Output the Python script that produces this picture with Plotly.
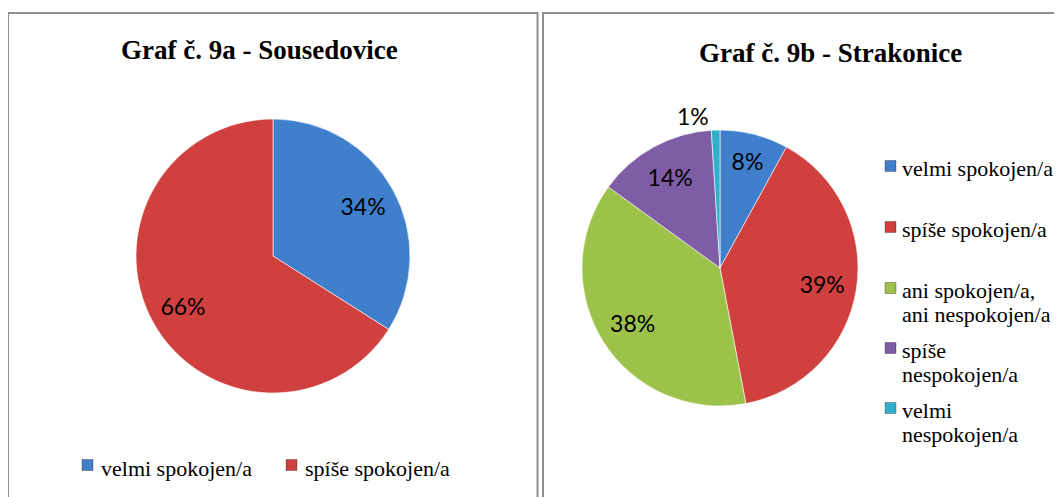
import plotly.graph_objects as go

W, H = 1062, 497
OFF = 8  # the page body adds an 8px margin around the figure

# ---- data ----
title_a = "Graf č. 9a - Sousedovice"
title_b = "Graf č. 9b - Strakonice"

cats_a = ["velmi spokojen/a", "spíše spokojen/a"]
vals_a = [34, 66]

cats_b = ["velmi spokojen/a", "spíše spokojen/a", "ani spokojen/a, ani nespokojen/a",
          "spíše nespokojen/a", "velmi nespokojen/a"]
vals_b = [8, 39, 38, 14, 1]

colors = ["#3F7FCB", "#CF403E", "#9DC24A", "#7E5DA6", "#33AFCB"]

# how the right-hand legend labels are wrapped in the reference
wrap_b = {
    "ani spokojen/a, ani nespokojen/a": ["ani spokojen/a,", "ani nespokojen/a"],
    "spíše nespokojen/a": ["spíše", "nespokojen/a"],
    "velmi nespokojen/a": ["velmi", "nespokojen/a"],
}


def px(x):
    return (x - OFF) / W


def py(y):
    return 1 - (y - OFF) / H


LABEL_FONT = dict(family="Lato, 'Open Sans', sans-serif", size=23, color="black")
SERIF = "'Liberation Serif', 'Times New Roman', serif"
EDGE = dict(color="rgba(255,255,255,0.6)", width=1)
CLEAR = ["rgba(0,0,0,0)"] * 5

dom_a = dict(x=[px(136), px(410)], y=[py(393), py(119)])
dom_b = dict(x=[px(582), px(858)], y=[py(406), py(130)])

fig = go.Figure()

# filled pies (no text)
fig.add_trace(go.Pie(
    labels=cats_a, values=vals_a, domain=dom_a,
    sort=False, direction="clockwise", rotation=0,
    marker=dict(colors=colors[:len(cats_a)], line=EDGE),
    textinfo="none", showlegend=False, hoverinfo="label+percent",
))
fig.add_trace(go.Pie(
    labels=cats_b, values=vals_b, domain=dom_b,
    sort=False, direction="clockwise", rotation=0,
    marker=dict(colors=colors[:len(cats_b)], line=EDGE),
    textinfo="none", showlegend=False, hoverinfo="label+percent",
))

# transparent overlays carrying the data labels, placed further out from the centre
fig.add_trace(go.Pie(
    labels=cats_a, values=vals_a, domain=dom_a, hole=0.5,
    sort=False, direction="clockwise", rotation=0,
    marker=dict(colors=CLEAR[:len(cats_a)], line=dict(width=0)),
    texttemplate="%{value}%", textposition="inside", insidetextorientation="horizontal",
    textfont=LABEL_FONT, insidetextfont=LABEL_FONT,
    showlegend=False, hoverinfo="skip",
))
fig.add_trace(go.Pie(
    labels=cats_b, values=vals_b, domain=dom_b, hole=0.5,
    sort=False, direction="clockwise", rotation=0,
    marker=dict(colors=CLEAR[:len(cats_b)], line=dict(width=0)),
    texttemplate="%{value}%",
    textposition=["inside", "inside", "inside", "inside", "outside"],
    insidetextorientation="horizontal",
    textfont=LABEL_FONT, insidetextfont=LABEL_FONT, outsidetextfont=LABEL_FONT,
    showlegend=False, hoverinfo="skip",
))

shapes = []
annotations = []

# panel frames
shapes.append(dict(type="rect", xref="paper", yref="paper",
                   x0=px(8), x1=px(537.5), y0=py(H + 30), y1=py(13),
                   line=dict(color="#8E8E8E", width=2), fillcolor="rgba(0,0,0,0)", layer="below"))
shapes.append(dict(type="rect", xref="paper", yref="paper",
                   x0=px(543), x1=px(W + 30), y0=py(H + 30), y1=py(13),
                   line=dict(color="#8E8E8E", width=2), fillcolor="rgba(0,0,0,0)", layer="below"))

# titles
annotations.append(dict(text=f"<b>{title_a}</b>", x=px(259), y=py(50), xref="paper", yref="paper",
                        xanchor="center", yanchor="middle", showarrow=False,
                        font=dict(family=SERIF, size=27, color="black")))
annotations.append(dict(text=f"<b>{title_b}</b>", x=px(830), y=py(53), xref="paper", yref="paper",
                        xanchor="center", yanchor="middle", showarrow=False,
                        font=dict(family=SERIF, size=27, color="black")))

LEG_FONT = dict(family=SERIF, size=22, color="black")


def legend_square(x0, yc, color):
    shapes.append(dict(type="rect", xref="paper", yref="paper",
                       x0=px(x0), x1=px(x0 + 11), y0=py(yc + 5.5), y1=py(yc - 5.5),
                       fillcolor=color, line=dict(color="rgba(0,0,0,0.35)", width=0.8)))


# left legend (horizontal, bottom)
left_leg_x = [82, 286]
for i, cat in enumerate(cats_a):
    legend_square(left_leg_x[i], 465, colors[i])
    annotations.append(dict(text=cat, x=px(left_leg_x[i] + 17), y=py(468), xref="paper", yref="paper",
                            xanchor="left", yanchor="middle", showarrow=False, font=LEG_FONT))

# right legend (vertical)
right_leg_y = [166, 227, 288, 348, 408]
line_gap = 24
for i, cat in enumerate(cats_b):
    legend_square(885, right_leg_y[i], colors[i])
    lines = wrap_b.get(cat, [cat])
    for j, ln in enumerate(lines):
        annotations.append(dict(text=ln, x=px(900), y=py(right_leg_y[i] + 2 + j * line_gap),
                                xref="paper", yref="paper", xanchor="left", yanchor="middle",
                                showarrow=False, font=LEG_FONT))

fig.update_layout(
    width=W, height=H,
    margin=dict(l=0, r=0, t=0, b=0),
    paper_bgcolor="white", plot_bgcolor="white",
    showlegend=False,
    shapes=shapes, annotations=annotations,
)

fig.write_html("out.html")
